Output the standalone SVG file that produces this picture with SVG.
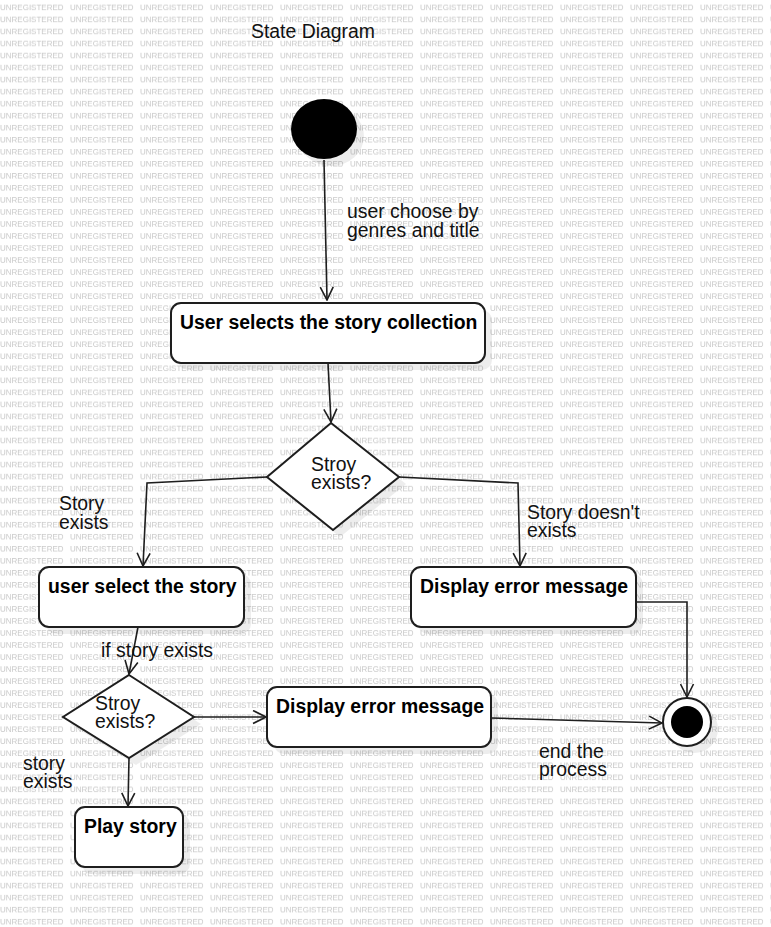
<svg xmlns="http://www.w3.org/2000/svg" width="771" height="927" viewBox="0 0 771 927">
<style>
.wm{font-family:"Liberation Sans",Arial,sans-serif;font-size:8px;fill:#c8c8c8}
.node{fill:#fff;stroke:#1e1e1e;stroke-width:2}
.shadow{fill:#000;fill-opacity:0.07;stroke:none}
.nt{font-family:"Liberation Sans",Arial,sans-serif;font-size:19.4px;font-weight:bold;fill:#000}
.lb{font-family:"Liberation Sans",Arial,sans-serif;font-size:19.4px;fill:#111}
.edge{fill:none;stroke:#1e1e1e;stroke-width:1.6}
</style>
<defs>
<pattern id="wm" x="0" y="0" width="70" height="12.03" patternUnits="userSpaceOnUse"><text class="wm" x="0" y="10.1">UNREGISTERED</text></pattern>
<marker id="arr" markerUnits="userSpaceOnUse" markerWidth="15" markerHeight="15" viewBox="0 0 15 15" refX="14" refY="7.5" orient="auto"><path d="M1,1 L14,7.5 L1,14" fill="none" stroke="#1e1e1e" stroke-width="1.6"/></marker>
</defs>
<rect width="771" height="927" fill="#fff"/>
<rect width="771" height="927" fill="url(#wm)"/>
<text class="lb" x="251" y="38">State Diagram</text>

<g id="connectors">
<path class="edge" d="M324,160 L327,300" marker-end="url(#arr)"/>
<path class="edge" d="M328,363 L331,422" marker-end="url(#arr)"/>
<path class="edge" d="M267,477 L147,483 L143,566" marker-end="url(#arr)"/>
<path class="edge" d="M399,477 L518,483 L520,566" marker-end="url(#arr)"/>
<path class="edge" d="M636,602 L687,602 L687,697" marker-end="url(#arr)"/>
<path class="edge" d="M138,627 L129,674" marker-end="url(#arr)"/>
<path class="edge" d="M194,717 L266,717" marker-end="url(#arr)"/>
<path class="edge" d="M491,718 L662,723" marker-end="url(#arr)"/>
<path class="edge" d="M129,758 L128,806" marker-end="url(#arr)"/>
<text class="lb" x="347" y="218">user choose by<tspan x="347" y="237">genres and title</tspan></text>
<text class="lb" x="59" y="510">Story<tspan x="59" y="529">exists</tspan></text>
<text class="lb" x="527" y="519">Story doesn't<tspan x="527" y="537">exists</tspan></text>
<text class="lb" x="101" y="657">if story exists</text>
<text class="lb" x="23" y="770">story<tspan x="23" y="788">exists</tspan></text>
<text class="lb" x="539" y="758">end the<tspan x="539" y="776">process</tspan></text>
</g>

<g id="initial">
<ellipse class="shadow" cx="331" cy="136" rx="33" ry="30"/>
<ellipse cx="324" cy="129" rx="33" ry="30" fill="#000"/>
</g>

<g id="select-collection">
<rect class="shadow" x="178" y="310" width="314" height="60" rx="10"/>
<rect class="node" x="171" y="303" width="314" height="60" rx="10"/>
<text class="nt" x="180" y="329">User selects the story collection</text>
</g>

<g id="decision1">
<polygon class="shadow" points="338,430 406,484 340,537 274,484"/>
<polygon class="node" points="331,423 399,477 333,530 267,477"/>
<text class="lb" x="311" y="471">Stroy<tspan x="311" y="489">exists?</tspan></text>
</g>

<g id="select-story">
<rect class="shadow" x="46" y="574" width="205" height="60" rx="10"/>
<rect class="node" x="39" y="567" width="205" height="60" rx="10"/>
<text class="nt" x="48" y="593">user select the story</text>
</g>

<g id="error1">
<rect class="shadow" x="418" y="574" width="225" height="60" rx="10"/>
<rect class="node" x="411" y="567" width="225" height="60" rx="10"/>
<text class="nt" x="420" y="593">Display error message</text>
</g>

<g id="decision2">
<polygon class="shadow" points="136,682 201,724 136,765 70,724"/>
<polygon class="node" points="129,675 194,717 129,758 63,717"/>
<text class="lb" x="95" y="710">Stroy<tspan x="95" y="728">exists?</tspan></text>
</g>

<g id="error2">
<rect class="shadow" x="274" y="694" width="224" height="60" rx="10"/>
<rect class="node" x="267" y="687" width="224" height="60" rx="10"/>
<text class="nt" x="276" y="713">Display error message</text>
</g>

<g id="play-story">
<rect class="shadow" x="82" y="814" width="108" height="60" rx="10"/>
<rect class="node" x="75" y="807" width="108" height="60" rx="10"/>
<text class="nt" x="84" y="833">Play story</text>
</g>

<g id="final">
<circle class="shadow" cx="694" cy="729" r="24"/>
<circle class="node" cx="687" cy="722" r="24"/>
<circle cx="687" cy="722" r="16" fill="#000"/>
</g>
</svg>
